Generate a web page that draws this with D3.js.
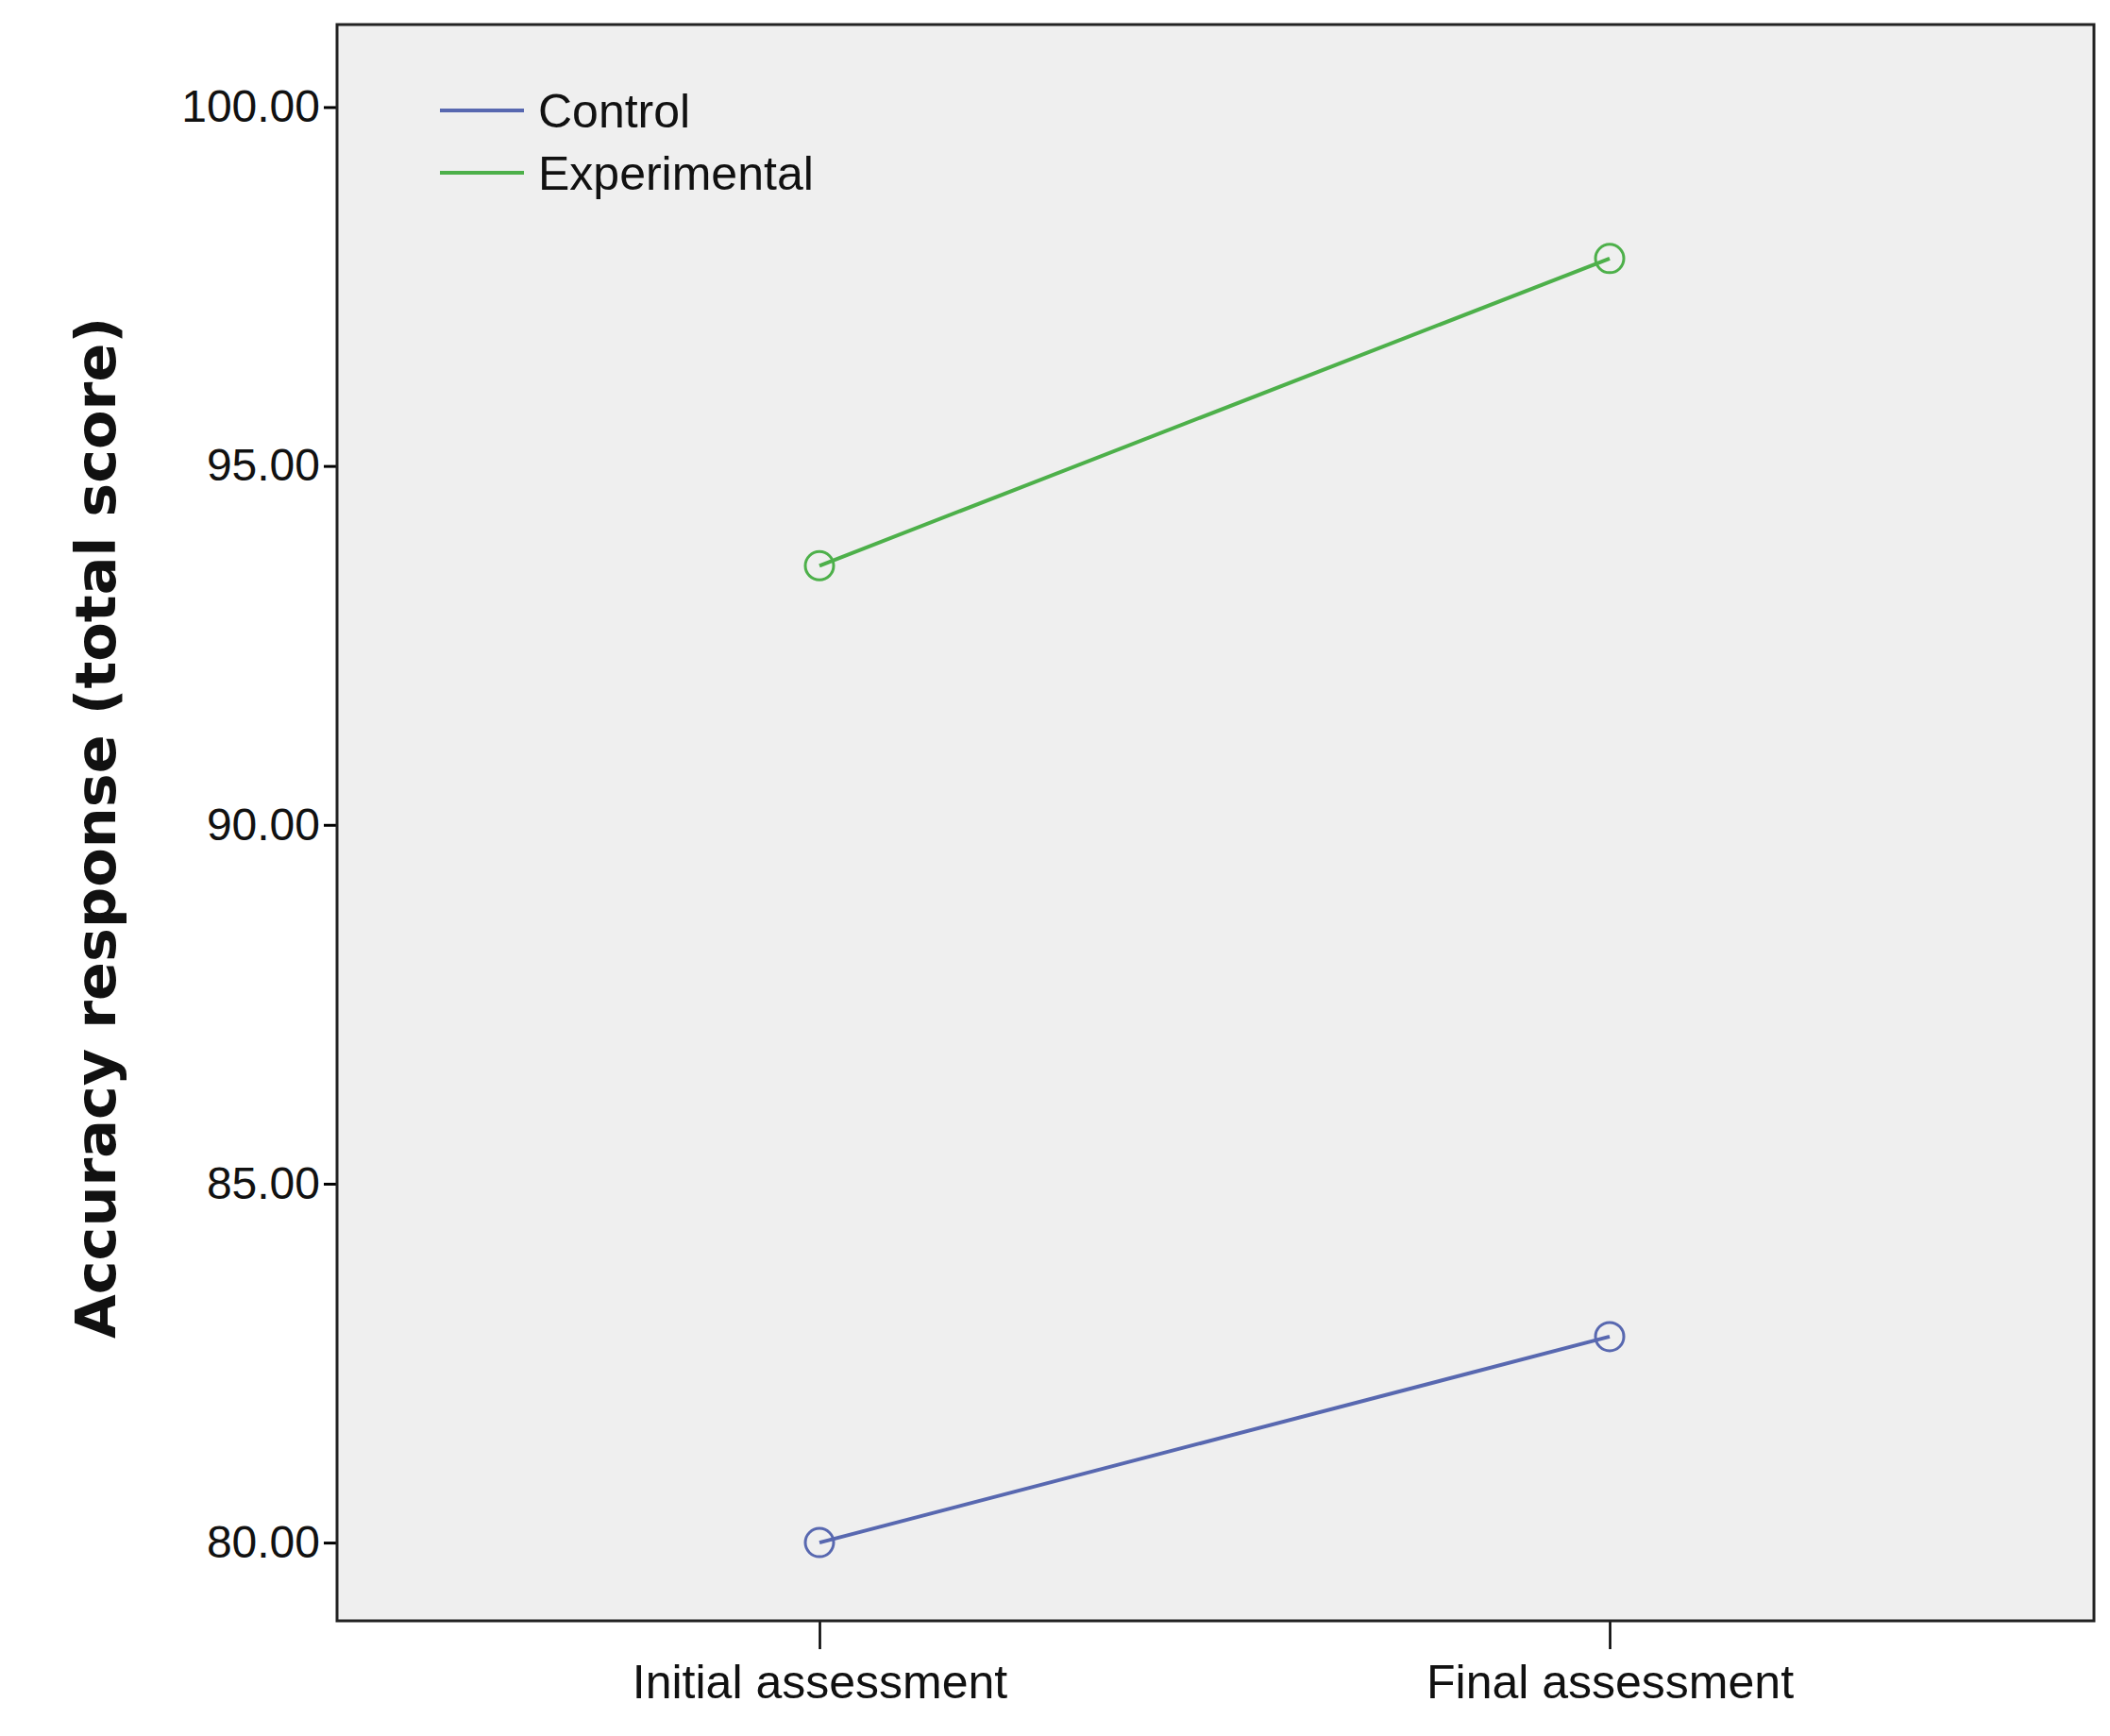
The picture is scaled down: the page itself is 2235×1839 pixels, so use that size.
<!DOCTYPE html>
<html><head><meta charset="utf-8">
<script src="https://cdn.jsdelivr.net/npm/d3@7"></script>
<style>body{margin:0;background:#fff}</style></head>
<body><svg id="c" width="2235" height="1839"></svg>
<script>
const categories = ["Initial assessment", "Final assessment"];
const seriesNames = ["Control", "Experimental"];
const controlValues = [80.0, 82.87];
const experimentalValues = [93.61, 97.89];
const yTicks = [80, 85, 90, 95, 100];
const colors = ["#5868b0", "#4db04a"];

const svg = d3.select("#c");
const L = 357, R = 2218, T = 26, B = 1717;
const y = d3.scaleLinear().domain([78.91, 101.15]).range([B, T]);
const x = d3.scalePoint().domain(categories).range([L, R]).padding(0)
  ;
// custom positions via band-like padding: categories at 606 and 1190 (display) -> use point scale with range
const xp = d3.scalePoint().domain(categories).range([868, 1705]);

svg.append("rect").attr("x", L).attr("y", T).attr("width", R - L).attr("height", B - T).attr("fill", "#efefef");

const font = "'Liberation Sans', Arial, sans-serif";
const yAxis = svg.append("g").attr("transform", `translate(${L},0)`)
  .call(d3.axisLeft(y).tickValues(yTicks).tickFormat(d3.format(".2f")).tickSize(14).tickPadding(4));
yAxis.select(".domain").remove();
yAxis.selectAll("line").attr("stroke", "#000").attr("stroke-width", 3);
yAxis.selectAll("text").attr("font-family", font).attr("font-size", 48).attr("fill", "#111");

const xAxis = svg.append("g").attr("transform", `translate(0,${B})`)
  .call(d3.axisBottom(xp).tickSize(30).tickPadding(12));
xAxis.select(".domain").remove();
xAxis.selectAll("line").attr("stroke", "#000").attr("stroke-width", 2.5);
xAxis.selectAll("text").attr("font-family", font).attr("font-size", 50).attr("fill", "#111").attr("dy", "0.8em");

svg.append("rect").attr("x", L).attr("y", T).attr("width", R - L).attr("height", B - T)
  .attr("fill", "none").attr("stroke", "#222").attr("stroke-width", 3);

const data = [controlValues, experimentalValues];
const line = d3.line().x((d, i) => xp(categories[i])).y(d => y(d));
data.forEach((vals, s) => {
  svg.append("path").attr("d", line(vals)).attr("fill", "none").attr("stroke", colors[s]).attr("stroke-width", 4);
  svg.selectAll(null).data(vals).enter().append("circle")
    .attr("cx", (d, i) => xp(categories[i])).attr("cy", d => y(d)).attr("r", 15)
    .attr("fill", "none").attr("stroke", colors[s]).attr("stroke-width", 3);
});

const leg = svg.append("g");
seriesNames.forEach((n, i) => {
  const yy = 117 + i * 66;
  leg.append("line").attr("x1", 466).attr("x2", 555).attr("y1", yy).attr("y2", yy).attr("stroke", colors[i]).attr("stroke-width", 4);
  leg.append("text").attr("x", 570).attr("y", yy).attr("dy", "0.35em").attr("font-family", font).attr("font-size", 50).attr("fill", "#111").text(n);
});

svg.append("text").attr("transform", "translate(122,877) rotate(-90)").attr("text-anchor", "middle")
  .attr("font-family", "'DejaVu Sans', sans-serif").attr("font-weight", "bold").attr("font-size", 58)
  .attr("textLength", 1082).attr("lengthAdjust", "spacingAndGlyphs").attr("fill", "#111")
  .text("Accuracy response (total score)");
</script></body></html>
